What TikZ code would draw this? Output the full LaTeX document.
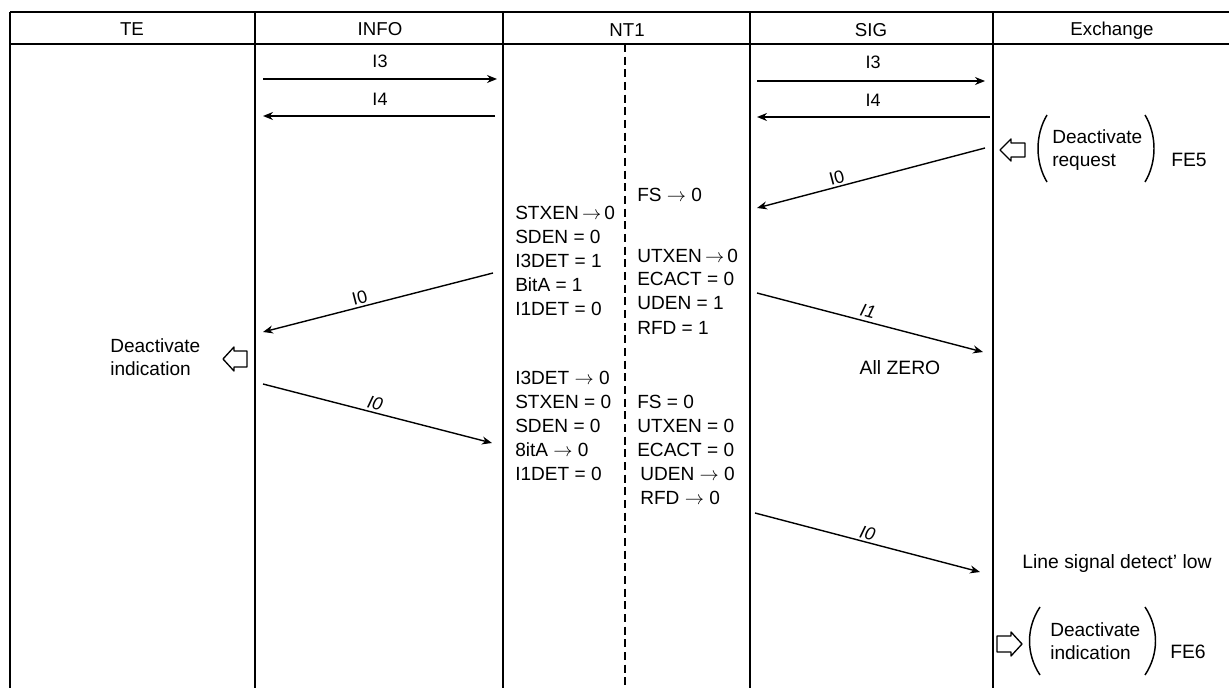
\documentclass[tikz,border=0pt]{standalone}
\usepackage{fontspec}
\setmainfont{Liberation Sans}
\usetikzlibrary{arrows.meta}
\begin{document}
\begin{tikzpicture}[x=0.75pt,y=-0.75pt,
  lane/.style={line width=1.05pt},
  nt/.style={line width=0.85pt,dash pattern=on 6pt off 3.5pt},
  msg/.style={line width=1.05pt,-{Stealth[length=7.5pt,width=6pt]}},
  hdr/.style={font=\fontsize{14}{16}\selectfont,inner sep=0pt},
  lbl/.style={font=\fontsize{13.5}{15}\selectfont,inner sep=1.5pt},
  big/.style={font=\fontsize{14.5}{16}\selectfont,inner sep=0pt},
  var/.style={font=\fontsize{14.3}{16}\selectfont,anchor=west,inner sep=0pt},
  txt/.style={font=\fontsize{14.3}{17}\selectfont,inner sep=0pt,align=left,anchor=west},
  hollow/.style={line width=1pt,line join=round},
  paren/.style={line width=1.1pt}]
\useasboundingbox (0,0) rectangle (1229,688);
% frame
\coordinate (tl) at (10,12); \coordinate (tr) at (1229,12);
\coordinate (hl) at (10,44); \coordinate (hr) at (1229,44);
\draw[lane] (tl) -- (tr);
\draw[lane] (hl) -- (hr);
\foreach \n/\x in {l0/10,l1/255,l2/503,l3/750,l4/993}{
  \coordinate (\n t) at (\x,12); \coordinate (\n b) at (\x,688);
  \draw[lane] (\n t) -- (\n b);}
\coordinate (dt) at (625,44); \coordinate (db) at (625,688);
\draw[nt] (dt) -- (db);
% headers
\node[hdr] (hTE) at (132,29) {TE};
\node[hdr] (hINFO) at (380,29) {INFO};
\node[hdr] (hNT) at (627,30) {NT1};
\node[hdr] (hSIG) at (871,30) {SIG};
\node[hdr] (hEX) at (1112,31) {Exchange};
% I3 / I4
\coordinate (i3a) at (263,79); \coordinate (i3b) at (497,79);
\coordinate (s3a) at (757,81); \coordinate (s3b) at (985,81);
\coordinate (i4a) at (495,116); \coordinate (i4b) at (263,116);
\coordinate (s4a) at (990,117); \coordinate (s4b) at (757,117);
\draw[msg] (i3a) -- (i3b);
\draw[msg] (s3a) -- (s3b);
\draw[msg] (i4a) -- (i4b);
\draw[msg] (s4a) -- (s4b);
\node[lbl] (li3) at (380,61) {I3};
\node[lbl] (ls3) at (873,62) {I3};
\node[lbl] (li4) at (380,99) {I4};
\node[lbl] (ls4) at (873,100) {I4};
% diagonal messages
\coordinate (e0a) at (985,148); \coordinate (e0b) at (757,208);
\coordinate (t0a) at (493,273); \coordinate (t0b) at (263,332);
\coordinate (u1a) at (757,293); \coordinate (u1b) at (983,352);
\coordinate (t1a) at (263,384); \coordinate (t1b) at (492,443);
\coordinate (u0a) at (755,513); \coordinate (u0b) at (980,572);
\draw[msg] (e0a) -- node[lbl,pos=0.64,above,sloped] (le0) {I0} (e0b);
\draw[msg] (t0a) -- node[lbl,pos=0.57,above,sloped] (lt0) {I0} (t0b);
\draw[msg] (u1a) -- node[lbl,pos=0.48,above=1pt,sloped] (lu1) {\itshape I1} (u1b);
\draw[msg] (t1a) -- node[lbl,pos=0.48,above,sloped] (lt1) {\itshape I0} (t1b);
\draw[msg] (u0a) -- node[lbl,pos=0.49,above,sloped] (lu0) {\itshape I0} (u0b);
\node[big] (allz) at (900,368) {All ZERO};
\node[big] (lsd) at (1117,563) {Line signal detect' low};
% NT1 block 1
\node[var] (fs1) at (637,195) {FS $\rightarrow$ 0};
\node[var] (a1) at (515,213) {STXEN\,$\rightarrow$\,0};
\node[var] (a2) at (515,237) {SDEN = 0};
\node[var] (a3) at (515,261) {I3DET = 1};
\node[var] (a4) at (515,285) {BitA = 1};
\node[var] (a5) at (515,309) {I1DET = 0};
\node[var] (b1) at (637,256) {UTXEN\,$\rightarrow$\,0};
\node[var] (b2) at (637,279) {ECACT = 0};
\node[var] (b3) at (637,303) {UDEN = 1};
\node[var] (b4) at (637,328) {RFD = 1};
% NT1 block 2
\node[var] (c1) at (515,378) {I3DET $\rightarrow$ 0};
\node[var] (c2) at (515,402) {STXEN = 0};
\node[var] (c3) at (515,426) {SDEN = 0};
\node[var] (c4) at (515,450) {8itA $\rightarrow$ 0};
\node[var] (c5) at (515,474) {I1DET = 0};
\node[var] (d1) at (637,402) {FS = 0};
\node[var] (d2) at (637,426) {UTXEN = 0};
\node[var] (d3) at (637,450) {ECACT = 0};
\node[var] (d4) at (640,474) {UDEN $\rightarrow$ 0};
\node[var] (d5) at (640,498) {RFD $\rightarrow$ 0};
% Exchange FE5
\draw[hollow] (1000,150) -- (1011,139) -- (1011,143) -- (1025,143) -- (1025,157) -- (1011,157) -- (1011,161) -- cycle;
\draw[paren] (1047,115) .. controls (1035,135) and (1035,162) .. (1047,182);
\draw[paren] (1145,115) .. controls (1157,135) and (1157,162) .. (1145,182);
\node[txt] (fe5t) at (1052,150) {Deactivate\\request};
\node[big] (fe5) at (1189,160) {FE5};
% TE indication
\node[txt] (tei) at (110,357) {Deactivate\\indication};
\draw[hollow] (223,359) -- (234,347) -- (234,351) -- (247,351) -- (247,367) -- (234,367) -- (234,371) -- cycle;
% Exchange FE6
\draw[hollow] (1022,644) -- (1011,632) -- (1011,636) -- (997,636) -- (997,652) -- (1011,652) -- (1011,656) -- cycle;
\draw[paren] (1040,607) .. controls (1026,628) and (1026,654) .. (1040,675);
\draw[paren] (1145,607) .. controls (1159,628) and (1159,654) .. (1145,675);
\node[txt] (fe6t) at (1050,641) {Deactivate\\indication};
\node[big] (fe6) at (1188,652) {FE6};
\end{tikzpicture}
\end{document}
